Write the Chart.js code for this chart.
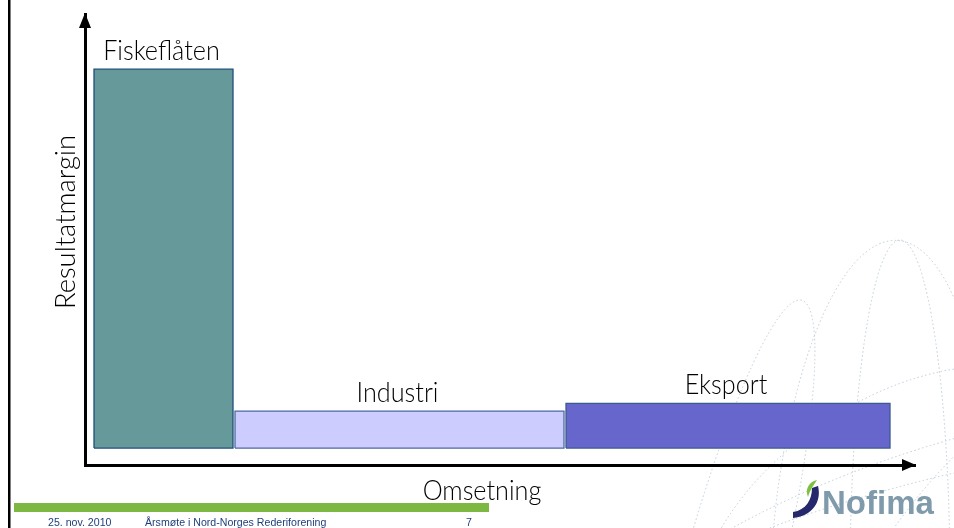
<!DOCTYPE html>
<html lang="no">
<head>
<meta charset="UTF-8">
<title>Resultatmargin og omsetning</title>
<script src="https://cdn.jsdelivr.net/npm/chart.js"></script>
<style>
    html, body { margin: 0; padding: 0; background: #fff; }
    #wrap { position: relative; width: 954px; height: 528px; overflow: hidden; }
</style>
</head>
<body>
<div id="wrap">
    <canvas id="chart" width="954" height="528"></canvas>
</div>
<script>
    // data (arbitrary units, no ticks shown)
    const categories = ['Fiskeflåten', 'Industri', 'Eksport'];
    const omsetning = [13.9, 32.9, 32.4];        // bar widths
    const resultatmargin = [84, 8.2, 9.9];       // bar heights
    const xTitle = 'Omsetning';
    const yTitle = 'Resultatmargin';
    const footer = ['25. nov. 2010', 'Årsmøte i Nord-Norges Rederiforening', '7'];

    const fills = ['#669999', '#ccccff', '#6666cc'];
    const borders = ['#1f4e79', '#4a6aa0', '#3d5a8c'];
    const startX = 0.9, gapX = 0.2, baseY = 3.76;

    // build closed rectangles from the cumulative widths
    let cursor = startX;
    const datasets = categories.map((name, i) => {
        const x0 = cursor, x1 = cursor + omsetning[i];
        cursor = x1 + gapX;
        const top = baseY + resultatmargin[i];
        return {
            label: name,
            data: [
                {x: x0, y: baseY}, {x: x0, y: top}, {x: x1, y: top},
                {x: x1, y: baseY}, {x: x0, y: baseY}
            ],
            showLine: true,
            fill: 'shape',
            backgroundColor: fills[i],
            borderColor: borders[i],
            borderWidth: 1.3,
            pointRadius: 0,
            tension: 0
        };
    });

    function squeezedText(ctx, text, x, y, font, color, align, sx) {
        ctx.save();
        ctx.font = font;
        ctx.fillStyle = color;
        ctx.textBaseline = 'alphabetic';
        ctx.translate(x, y);
        ctx.scale(sx || 1, 1);
        ctx.textAlign = align || 'center';
        ctx.fillText(text, 0, 0);
        ctx.restore();
    }

    const decor = {
        id: 'decor',
        beforeDraw(chart) {
            const ctx = chart.ctx;
            // faint dotted globe lines in the lower right
            ctx.save();
            ctx.strokeStyle = '#bccbd7';
            ctx.lineWidth = 1;
            ctx.setLineDash([1.5, 2.5]);
            const arcs = [
                [900, 540, 300, 80, -0.35],
                [900, 540, 230, 140, -0.6],
                [880, 580, 110, 340, 0.05],
                [900, 580, 50, 340, 0.0],
                [720, 620, 50, 330, 0.25],
                [930, 520, 260, 40, -0.25],
                [960, 540, 190, 60, -0.9]
            ];
            arcs.forEach(a => {
                ctx.beginPath();
                ctx.ellipse(a[0], a[1], a[2], a[3], a[4], 0, Math.PI * 2);
                ctx.stroke();
            });
            ctx.restore();
        },
        afterDraw(chart) {
            const ctx = chart.ctx;
            const area = chart.chartArea;
            const xs = chart.scales.x, ys = chart.scales.y;

            // left slide edge
            ctx.save();
            ctx.fillStyle = '#000';
            ctx.fillRect(8, 0, 2.5, 528);

            // arrow heads
            ctx.beginPath();
            ctx.moveTo(area.left, area.top - 1);
            ctx.lineTo(area.left - 6, area.top + 14);
            ctx.lineTo(area.left + 6, area.top + 14);
            ctx.closePath();
            ctx.fill();
            ctx.beginPath();
            ctx.moveTo(area.right + 1, area.bottom);
            ctx.lineTo(area.right - 13, area.bottom - 6);
            ctx.lineTo(area.right - 13, area.bottom + 6);
            ctx.closePath();
            ctx.fill();
            ctx.restore();

            // bar labels
            const font = '300 28px Lato, "DejaVu Sans", sans-serif';
            const sx = 0.9;
            let c = startX;
            categories.forEach((name, i) => {
                const mid = xs.getPixelForValue(c + omsetning[i] / 2);
                const top = ys.getPixelForValue(baseY + resultatmargin[i]);
                c += omsetning[i] + gapX;
                squeezedText(ctx, name, mid - 2, top - 9, font, '#000', 'center', sx);
            });

            // axis titles
            squeezedText(ctx, xTitle, 482, 500, font, '#000', 'center', sx);
            ctx.save();
            ctx.translate(75, 222);
            ctx.rotate(-Math.PI / 2);
            ctx.font = font;
            ctx.fillStyle = '#000';
            ctx.textAlign = 'center';
            ctx.fillText(yTitle, 0, 0, 174);
            ctx.restore();

            // footer
            ctx.fillStyle = '#7cb842';
            ctx.fillRect(14, 503, 475, 9);
            const ff = '10.6px "Liberation Sans", Arial, sans-serif';
            squeezedText(ctx, footer[0], 48, 526, ff, '#1e3f7a', 'left');
            squeezedText(ctx, footer[1], 145, 526, ff, '#1e3f7a', 'left');
            squeezedText(ctx, footer[2], 466, 526, ff, '#1e3f7a', 'left');

            // Nofima logo
            ctx.save();
            ctx.fillStyle = '#25286b';
            ctx.beginPath();
            ctx.moveTo(793, 512);
            ctx.bezierCurveTo(806, 510, 812, 500, 812, 488);
            ctx.lineTo(818, 486);
            ctx.bezierCurveTo(822, 502, 812, 516, 793, 518);
            ctx.closePath();
            ctx.fill();
            ctx.fillStyle = '#7cc142';
            ctx.beginPath();
            ctx.moveTo(817, 480);
            ctx.bezierCurveTo(808, 482, 805, 490, 808, 497);
            ctx.bezierCurveTo(810, 490, 813, 486, 817, 480);
            ctx.closePath();
            ctx.fill();
            ctx.restore();
            squeezedText(ctx, 'Nofima', 822, 514, 'bold 33px "Liberation Sans", Arial, sans-serif', '#7e9aab', 'left');
        }
    };

    new Chart(document.getElementById('chart'), {
        type: 'scatter',
        data: { datasets: datasets },
        options: {
            responsive: false,
            animation: false,
            devicePixelRatio: 1,
            layout: { padding: { left: 77, right: 39, top: 14, bottom: 55 } },
            plugins: { legend: { display: false }, tooltip: { enabled: false } },
            scales: {
                x: {
                    type: 'linear', min: 0, max: 83,
                    grid: { display: false },
                    ticks: { display: false },
                    border: { display: true, color: '#000', width: 3 }
                },
                y: {
                    min: 0, max: 100,
                    grid: { display: false },
                    ticks: { display: false },
                    border: { display: true, color: '#000', width: 3 }
                }
            }
        },
        plugins: [decor]
    });
</script>
</body>
</html>
